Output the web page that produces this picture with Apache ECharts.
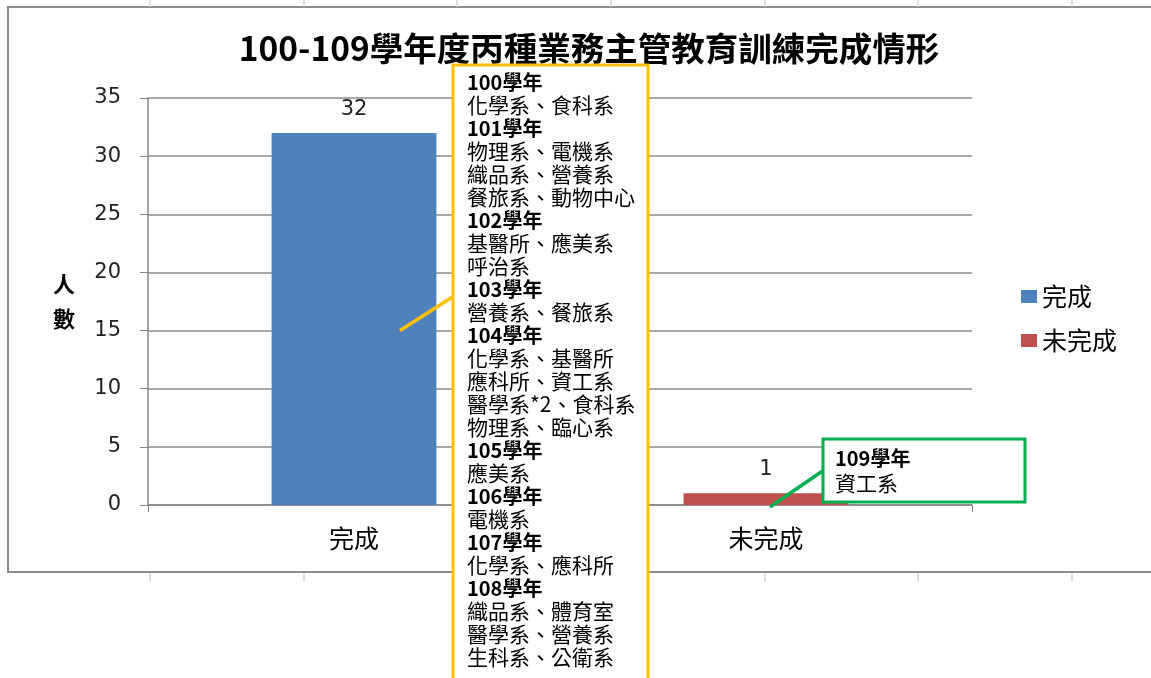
<!DOCTYPE html>
<html>
<head>
<meta charset="utf-8">
<script src="https://cdn.jsdelivr.net/npm/echarts@6/dist/echarts.min.js"></script>
<style>
  html, body { margin: 0; padding: 0; background: #fff; }
  #chart { width: 1151px; height: 678px; }
</style>
</head>
<body>
<div id="chart"></div>
<script>
// data
var categories = ['完成', '未完成'];
var doneValues = [32, '-'];
var notDoneValues = ['-', 1];
var yTicks = { min: 0, max: 35, interval: 5 };

// callout texts
var doneNotes = [
  ['100學年', ['化學系、食科系']],
  ['101學年', ['物理系、電機系', '織品系、營養系', '餐旅系、動物中心']],
  ['102學年', ['基醫所、應美系', '呼治系']],
  ['103學年', ['營養系、餐旅系']],
  ['104學年', ['化學系、基醫所', '應科所、資工系', '醫學系*2、食科系', '物理系、臨心系']],
  ['105學年', ['應美系']],
  ['106學年', ['電機系']],
  ['107學年', ['化學系、應科所']],
  ['108學年', ['織品系、體育室', '醫學系、營養系', '生科系、公衛系']]
];
var notDoneNotes = [
  ['109學年', ['資工系']]
];

var CJK = '"Noto Sans CJK TC", "Noto Sans CJK SC", sans-serif';
var NUM = '"DejaVu Sans", Verdana, sans-serif';

function noteText(notes) {
  var out = [];
  notes.forEach(function (n) {
    out.push('{y|' + n[0] + '}');
    n[1].forEach(function (d) { out.push('{d|' + d + '}'); });
  });
  return out.join('\n');
}

var chart = echarts.init(document.getElementById('chart'));

chart.setOption({
  backgroundColor: '#fff',
  animation: false,
  title: {
    text: '100-109學年度丙種業務主管教育訓練完成情形',
    left: 584,
    top: 27,
    textAlign: 'center',
    textStyle: { fontFamily: CJK, fontSize: 33.5, fontWeight: 'bold', color: '#000' }
  },
  legend: {
    orient: 'vertical',
    left: 1016,
    top: 279,
    itemWidth: 16,
    itemHeight: 13,
    itemGap: 19,
    icon: 'rect',
    textStyle: { fontFamily: CJK, fontSize: 25, color: '#000' },
    data: ['完成', '未完成']
  },
  grid: { left: 148, right: 179, top: 98, bottom: 173 },
  xAxis: {
    type: 'category',
    data: categories,
    axisLine: { lineStyle: { color: '#868686', width: 1.5 } },
    axisTick: { show: true, length: 7, lineStyle: { color: '#868686' } },
    axisLabel: { fontFamily: CJK, fontSize: 25, color: '#000', margin: 21 }
  },
  yAxis: {
    type: 'value',
    min: yTicks.min,
    max: yTicks.max,
    interval: yTicks.interval,
    name: '人\n數',
    nameLocation: 'middle',
    nameRotate: 0,
    nameGap: 73,
    nameTextStyle: { fontFamily: CJK, fontSize: 22, fontWeight: 'bold', color: '#000', lineHeight: 35 },
    axisLine: { show: true, lineStyle: { color: '#868686', width: 1.5 } },
    axisTick: { show: true, inside: false, length: 8, lineStyle: { color: '#868686' } },
    splitLine: { lineStyle: { color: '#8c8c8c', width: 1.5 } },
    axisLabel: { fontFamily: NUM, fontSize: 21, color: '#222', margin: 27 }
  },
  series: [
    {
      name: '完成',
      type: 'bar',
      stack: 'all',
      barWidth: '40%',
      data: doneValues,
      itemStyle: { color: '#4F81BD' },
      label: { show: true, position: 'top', distance: 13, fontFamily: NUM, fontSize: 21, color: '#222' }
    },
    {
      name: '未完成',
      type: 'bar',
      stack: 'all',
      barWidth: '40%',
      data: notDoneValues,
      itemStyle: { color: '#C0504D' },
      label: { show: true, position: 'top', distance: 13, fontFamily: NUM, fontSize: 21, color: '#222' }
    }
  ]
});

// callouts anchored on points taken from the axes
var a1 = chart.convertToPixel({ xAxisIndex: 0, yAxisIndex: 0 }, ['完成', 15]);
var a2 = chart.convertToPixel({ xAxisIndex: 0, yAxisIndex: 0 }, ['未完成', 0]);

var richStyle = {
  y: { fontFamily: CJK, fontSize: 20, fontWeight: 'bold', color: '#000', lineHeight: 23 },
  d: { fontFamily: CJK, fontSize: 21, color: '#3a3a3a', lineHeight: 23 }
};

chart.setOption({
  graphic: [
    // sheet grid stubs outside the chart frame
    { type: 'group', silent: true, children: [150, 304, 457, 611, 765, 918, 1072].map(function (x) {
        return { type: 'line', shape: { x1: x, y1: 0, x2: x, y2: 7 }, style: { stroke: '#d4d4d4', lineWidth: 1.5 } };
      }).concat([150, 304, 457, 611, 765, 918, 1072].map(function (x) {
        return { type: 'line', shape: { x1: x, y1: 573, x2: x, y2: 582 }, style: { stroke: '#d4d4d4', lineWidth: 1.5 } };
      }))
    },
    // chart frame
    { type: 'rect', silent: true, z: -10,
      shape: { x: 8, y: 7, width: 1160, height: 565 },
      style: { fill: null, stroke: '#8c8c8c', lineWidth: 2 } },

    // yellow callout
    { type: 'line', z: 100,
      shape: { x1: a1[0] + 46, y1: a1[1], x2: 454, y2: 296 },
      style: { stroke: '#FFC000', lineWidth: 3.5 } },
    { type: 'rect', z: 100,
      shape: { x: 453, y: 65, width: 195, height: 640 },
      style: { fill: '#fff', stroke: '#FFC000', lineWidth: 3 } },
    { type: 'text', z: 101,
      style: { x: 467, y: 71, text: noteText(doneNotes), rich: richStyle, verticalAlign: 'top', align: 'left' } },

    // green callout
    { type: 'line', z: 100,
      shape: { x1: a2[0] + 4, y1: a2[1] + 2, x2: 824, y2: 470 },
      style: { stroke: '#00B050', lineWidth: 3.5 } },
    { type: 'rect', z: 100,
      shape: { x: 823, y: 439, width: 202, height: 63 },
      style: { fill: '#fff', stroke: '#00B050', lineWidth: 3 } },
    { type: 'text', z: 101,
      style: { x: 835, y: 446, text: noteText(notDoneNotes), rich: {
        y: { fontFamily: CJK, fontSize: 20, fontWeight: 'bold', color: '#000', lineHeight: 25 },
        d: { fontFamily: CJK, fontSize: 21, color: '#3a3a3a', lineHeight: 25 }
      }, verticalAlign: 'top', align: 'left' } }
  ]
});
</script>
</body>
</html>
